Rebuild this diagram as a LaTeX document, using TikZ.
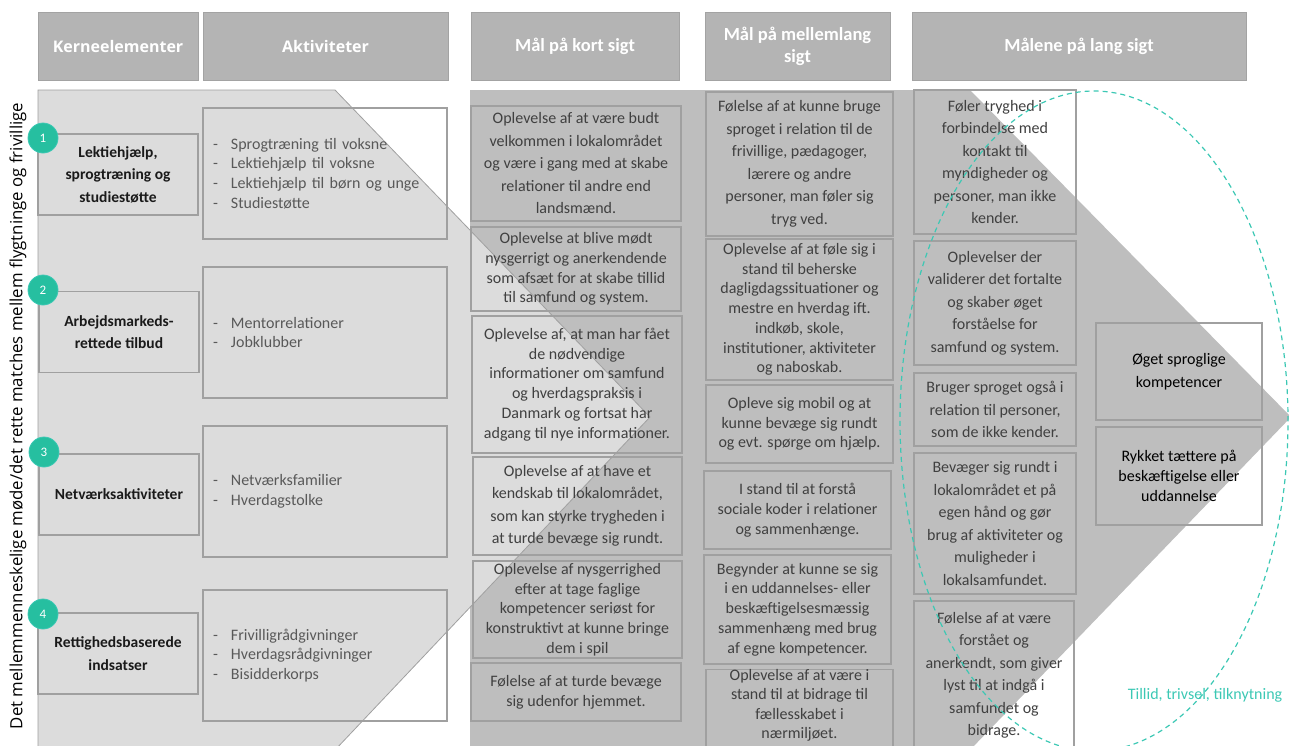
\documentclass[tikz,border=0pt]{standalone}
\usepackage{fontspec}
\setmainfont{Carlito}
\newfontfamily\opensans{Open Sans}

\definecolor{chevlight}{HTML}{DCDCDC}
\definecolor{chevdark}{HTML}{BEBEBE}
\definecolor{hdrfill}{HTML}{B4B4B4}
\definecolor{hdrline}{HTML}{A3A3A3}
\definecolor{boxline}{HTML}{A0A0A0}
\definecolor{goaltext}{HTML}{404040}
\definecolor{akttext}{HTML}{595959}
\definecolor{kerntext}{HTML}{1A1A1A}
\definecolor{tealfill}{HTML}{26BFA0}
\definecolor{tealline}{HTML}{3CC8B4}

\tikzset{
  hdr/.style={draw=hdrline, fill=hdrfill, line width=1pt, text=white, align=center,
    inner sep=0pt, minimum height=68pt},
  kern/.style={draw=boxline, line width=1.2pt, align=center, inner sep=0pt,
    minimum width=160pt, minimum height=81pt, text=kerntext,
    font=\fontsize{15.5}{22.5}\selectfont\bfseries},
  akt/.style={draw=boxline, line width=1.2pt, align=left, inner sep=0pt,
    minimum width=244pt, minimum height=131pt, text width=224pt, text=akttext,
    font=\fontsize{16}{19.8}\selectfont},
  goal/.style={draw=boxline, line width=1.2pt, align=center, inner sep=0pt,
    text=goaltext, font=\fontsize{16}{22.5}\selectfont},
  tight/.style={font=\fontsize{16}{19.7}\selectfont},
  effect/.style={goal, text=black, minimum width=166pt},
  num/.style={circle, fill=tealfill, draw=tealline, line width=0.8pt, text=white,
    minimum size=30pt, inner sep=0pt, font=\fontsize{13}{13}\selectfont},
}

\newcommand{\dash}{\makebox[18pt][l]{-}}

\begin{document}
\begin{tikzpicture}[x=1pt, y=-1pt]
\useasboundingbox (0,0) rectangle (1289,745);
\clip (0,0) rectangle (1289,745);

% arrows in the background
\fill[chevdark] (470,90) -- (970,90) -- (1291,417) -- (970,750) -- (470,750) -- cycle;
\draw[boxline, line width=0.8pt, fill=chevlight] (38,750) -- (38,90) -- (335,90) -- (650,417) -- (335,750);

% headers
\node[hdr, minimum width=160pt, font=\opensans\bfseries\fontsize{16}{19}\selectfont] (hkerne) at (118,46) {Kerneelementer};
\node[hdr, minimum width=245pt, font=\opensans\bfseries\fontsize{16}{19}\selectfont] (hakt) at (325.5,46) {Aktiviteter};
\node[hdr, minimum width=208pt, font=\bfseries\fontsize{18.5}{22}\selectfont] (hkort) at (575,46) {Mål på kort sigt};
\node[hdr, minimum width=185pt, font=\bfseries\fontsize{18.5}{22}\selectfont] (hmell) at (797.5,46) {Mål på mellemlang\\sigt};
\node[hdr, minimum width=334pt, font=\bfseries\fontsize{18.5}{22}\selectfont] (hlang) at (1079,46) {Målene på lang sigt};

% kerneelementer
\node[kern] (kern1) at (118,174.5) {Lektiehjælp,\\sprogtræning og\\studiestøtte};
\node[kern] (kern2) at (119,332) {Arbejdsmarkeds-\\rettede tilbud};
\node[kern] (kern3) at (119,494.5) {Netværksaktiviteter};
\node[kern] (kern4) at (118,653.5) {Rettighedsbaserede\\indsatser};

\node[num] (num1) at (43,138) {1};
\node[num] (num2) at (43,290) {2};
\node[num] (num3) at (44,452) {3};
\node[num] (num4) at (43,614) {4};

% aktiviteter
\node[akt] (akt1) at (325,173.5) {\dash Sprogtræning til voksne\\\dash Lektiehjælp til voksne\\\dash Lektiehjælp til børn og unge\\\dash Studiestøtte};
\node[akt] (akt2) at (325,332.5) {\dash Mentorrelationer\\\dash Jobklubber};
\node[akt] (akt3) at (325,491.5) {\dash Netværksfamilier\\\dash Hverdagstolke};
\node[akt] (akt4) at (325,655.5) {\dash Frivilligrådgivninger\\\dash Hverdagsrådgivninger\\\dash Bisidderkorps};

% mål på kort sigt
\node[goal, minimum width=210pt, minimum height=115pt] (kort1) at (576,163.5) {Oplevelse af at være budt\\velkommen i lokalområdet\\og være i gang med at skabe\\relationer til andre end\\landsmænd.};
\node[goal, tight, minimum width=210pt, minimum height=84pt] (kort2) at (576,269) {Oplevelse at blive mødt\\nysgerrigt og anerkendende\\som afsæt for at skabe tillid\\til samfund og system.};
\node[goal, tight, minimum width=210pt, minimum height=137pt] (kort3) at (577,384.5) {Oplevelse af, at man har fået\\de nødvendige\\informationer om samfund\\og hverdagspraksis i\\Danmark og fortsat har\\adgang til nye informationer.};
\node[goal, minimum width=209pt, minimum height=98pt] (kort4) at (577.5,506) {Oplevelse af at have et\\kendskab til lokalområdet,\\som kan styrke trygheden i\\at turde bevæge sig rundt.};
\node[goal, tight, minimum width=209pt, minimum height=97pt] (kort5) at (577.5,609.5) {Oplevelse af nysgerrighed\\efter at tage faglige\\kompetencer seriøst for\\konstruktivt at kunne bringe\\dem i spil};
\node[goal, tight, minimum width=210pt, minimum height=58pt] (kort6) at (576,692) {Følelse af at turde bevæge\\sig udenfor hjemmet.};

% mål på mellemlang sigt
\node[goal, minimum width=187pt, minimum height=144pt] (mell1) at (799.5,164) {Følelse af at kunne bruge\\sproget i relation til de\\frivillige, pædagoger,\\lærere og andre\\personer, man føler sig\\tryg ved.};
\node[goal, tight, minimum width=187pt, minimum height=141pt] (mell2) at (799.5,309.5) {Oplevelse af at føle sig i\\stand til beherske\\dagligdagssituationer og\\mestre en hverdag ift.\\indkøb, skole,\\institutioner, aktiviteter\\og naboskab.};
\node[goal, tight, minimum width=187pt, minimum height=78pt] (mell3) at (799.5,424) {Opleve sig mobil og at\\kunne bevæge sig rundt\\og evt. spørge om hjælp.};
\node[goal, tight, minimum width=187pt, minimum height=78pt] (mell4) at (797.5,510) {I stand til at forstå\\sociale koder i relationer\\og sammenhænge.};
\node[goal, tight, minimum width=187pt, minimum height=109pt] (mell5) at (797.5,609.5) {Begynder at kunne se sig\\i en uddannelses- eller\\beskæftigelsesmæssig\\sammenhæng med brug\\af egne kompetencer.};
\node[goal, minimum width=187pt, minimum height=80pt, font=\fontsize{16}{19.2}\selectfont, text depth=12pt] (mell6) at (799.5,710) {Oplevelse af at være i\\stand til at bidrage til\\fællesskabet i\\nærmiljøet.};

% målene på lang sigt
\node[goal, minimum width=162pt, minimum height=144pt] (lang1) at (995,162) {Føler tryghed i\\forbindelse med\\kontakt til\\myndigheder og\\personer, man ikke\\kender.};
\node[goal, minimum width=162pt, minimum height=124pt] (lang2) at (995,303) {Oplevelser der\\validerer det fortalte\\og skaber øget\\forståelse for\\samfund og system.};
\node[goal, minimum width=162pt, minimum height=73pt] (lang3) at (995,409.5) {Bruger sproget også i\\relation til personer,\\som de ikke kender.};
\node[goal, minimum width=162pt, minimum height=141pt] (lang4) at (995,523.5) {Bevæger sig rundt i\\lokalområdet et på\\egen hånd og gør\\brug af aktiviteter og\\muligheder i\\lokalsamfundet.};
\node[goal, minimum width=160pt, minimum height=149pt] (lang5) at (994,675.5) {Følelse af at være\\forstået og\\anerkendt, som giver\\lyst til at indgå i\\samfundet og\\bidrage.};

\node[effect, minimum height=97pt] (eff1) at (1179,371.5) {Øget sproglige\\kompetencer};
\node[effect, tight, minimum height=98pt] (eff2) at (1179,476) {Rykket tættere på\\beskæftigelse eller\\uddannelse};

% tillid
\draw[tealline, line width=1.2pt, dash pattern=on 5pt off 4pt] (1094,421) ellipse [x radius=194pt, y radius=330pt];
\node[text=tealline, font=\fontsize{16}{19}\selectfont] (tillid) at (1205,695) {Tillid, trivsel, tilknytning};

\node[rotate=90, text=black, font=\opensans\fontsize{16.8}{20}\selectfont] (side) at (18,416) {Det mellemmenneskelige møde/det rette matches mellem flygtninge og frivillige};
\end{tikzpicture}
\end{document}
